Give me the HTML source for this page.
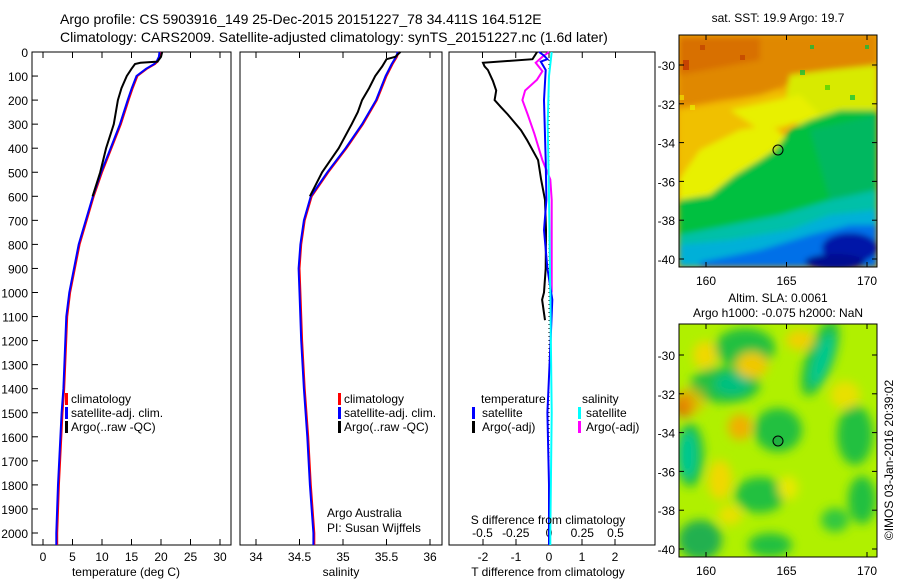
<!DOCTYPE html>
<html><head><meta charset="utf-8"><style>
body{margin:0;background:#fff;}
svg text{font-family:"Liberation Sans",sans-serif;font-size:12px;fill:#000;}
</style></head><body>
<svg id="c" width="900" height="580" viewBox="0 0 900 580" xmlns="http://www.w3.org/2000/svg">
<defs>
<filter id="bl" x="-20%" y="-20%" width="140%" height="140%"><feGaussianBlur stdDeviation="3"/></filter>
<filter id="bl2" x="-20%" y="-20%" width="140%" height="140%"><feGaussianBlur stdDeviation="5"/></filter>
<clipPath id="m1"><rect x="679" y="35" width="198" height="232"/></clipPath>
<clipPath id="m2"><rect x="679" y="324" width="198" height="233"/></clipPath>
</defs>
<text x="60" y="24" style="font-size:14px">Argo profile: CS 5903916_149 25-Dec-2015 20151227_78 34.411S 164.512E</text>
<text x="60" y="42" style="font-size:14px">Climatology: CARS2009. Satellite-adjusted climatology: synTS_20151227.nc (1.6d later)</text>

<!-- SST map -->
<g clip-path="url(#m1)">
<rect x="679" y="35" width="198" height="232" fill="#f0a800"/>
<g filter="url(#bl)">
<polygon points="679,35 877,35 877,70 840,78 800,80 760,95 720,100 679,108" fill="#e08800"/>
<polygon points="679,38 760,38 760,60 679,75" fill="#d87000"/>
<polygon points="790,75 830,70 877,65 877,130 820,130 780,120" fill="#d8ea00"/>
<polygon points="679,110 740,100 780,90 800,110 790,125 760,150 740,175 710,200 679,205" fill="#f0c000"/>
<polygon points="679,180 700,150 740,130 770,125 790,140 760,160 730,190 700,210 679,215" fill="#e8f000"/>
<polygon points="730,110 800,95 820,115 790,125 760,130" fill="#e8f000"/>
<polygon points="679,200 710,195 735,175 760,160 775,150 790,130 810,120 840,110 877,110 877,200 800,215 740,230 679,235" fill="#00c040"/>
<polygon points="810,130 877,115 877,200 830,200" fill="#00b860"/>
<polygon points="679,235 730,225 780,215 830,200 877,190 877,267 679,267" fill="#00c0a8"/>
<polygon points="679,245 730,240 790,230 830,215 877,210 877,267 679,267" fill="#00b0d8"/>
<polygon points="700,262 760,250 810,235 850,225 877,225 877,267 700,267" fill="#0070e8"/>
<ellipse cx="850" cy="248" rx="28" ry="15" fill="#0018a8"/>
<ellipse cx="835" cy="262" rx="30" ry="8" fill="#000890"/>
</g>
<g opacity="0.7">
<rect x="700" y="45" width="5" height="5" fill="#c04000"/><rect x="740" y="55" width="5" height="5" fill="#c04000"/>
<rect x="810" y="45" width="4" height="4" fill="#00c040"/><rect x="865" y="45" width="4" height="4" fill="#00c040"/>
<rect x="825" y="85" width="5" height="5" fill="#40d000"/><rect x="850" y="95" width="5" height="5" fill="#00c040"/>
<rect x="690" y="105" width="5" height="5" fill="#e8f000"/><rect x="800" y="70" width="5" height="5" fill="#00c040"/>
<rect x="679" y="95" width="5" height="5" fill="#f0e000"/><rect x="683" y="60" width="6" height="10" fill="#c03000"/>
</g>
</g>
<rect x="679" y="35" width="198" height="232" fill="none" stroke="#000"/>
<circle cx="778" cy="150" r="5" fill="none" stroke="#000"/>
<text x="778" y="22" text-anchor="middle">sat. SST: 19.9 Argo: 19.7</text>

<!-- SLA map -->
<g clip-path="url(#m2)">
<rect x="679" y="324" width="198" height="233" fill="#b0f000"/>
<g filter="url(#bl2)">
<ellipse cx="745" cy="348" rx="30" ry="20" fill="#20c040"/>
<ellipse cx="725" cy="385" rx="35" ry="18" fill="#20c040"/>
<ellipse cx="732" cy="384" rx="18" ry="11" fill="#00c080"/>
<ellipse cx="820" cy="358" rx="14" ry="40" fill="#20c040" transform="rotate(20 820 358)"/>
<ellipse cx="822" cy="360" rx="8" ry="28" fill="#00c890" transform="rotate(20 822 360)"/>
<ellipse cx="690" cy="455" rx="14" ry="32" fill="#20c040"/>
<ellipse cx="688" cy="455" rx="9" ry="24" fill="#00c890"/>
<ellipse cx="684" cy="405" rx="10" ry="12" fill="#d86010"/>
<ellipse cx="692" cy="400" rx="14" ry="14" fill="#f0b000" opacity="0.6"/>
<ellipse cx="752" cy="365" rx="16" ry="13" fill="#f0c800"/>
<ellipse cx="705" cy="355" rx="12" ry="14" fill="#f0d800"/>
<ellipse cx="740" cy="427" rx="12" ry="13" fill="#f0b000"/>
<ellipse cx="720" cy="480" rx="12" ry="20" fill="#f0d800"/>
<ellipse cx="778" cy="430" rx="24" ry="22" fill="#20c040"/>
<ellipse cx="760" cy="495" rx="25" ry="18" fill="#20c040"/>
<ellipse cx="855" cy="435" rx="18" ry="30" fill="#20c040"/>
<ellipse cx="862" cy="500" rx="14" ry="24" fill="#20c040"/>
<ellipse cx="700" cy="540" rx="22" ry="20" fill="#20b050"/>
<ellipse cx="770" cy="545" rx="22" ry="12" fill="#20c040"/>
<ellipse cx="835" cy="520" rx="14" ry="12" fill="#30c840"/>
<ellipse cx="800" cy="340" rx="14" ry="10" fill="#f0d000"/>
<ellipse cx="845" cy="395" rx="15" ry="14" fill="#e8e000"/>
<ellipse cx="788" cy="488" rx="10" ry="12" fill="#e8e800"/>
<ellipse cx="730" cy="515" rx="12" ry="10" fill="#e8e000"/>
</g>
</g>
<rect x="679" y="324" width="198" height="233" fill="none" stroke="#000"/>
<circle cx="778" cy="441" r="5" fill="#20b040" stroke="#000"/>
<text x="778" y="302" text-anchor="middle">Altim. SLA: 0.0061</text>
<text x="778" y="317" text-anchor="middle">Argo h1000: -0.075 h2000: NaN</text>
<text transform="translate(893,460) rotate(-90)" text-anchor="middle">©IMOS 03-Jan-2016 20:39:02</text>

<g id="plots"></g>
</svg>
<script>
// ---- data ----
const tClimDepth=[0,20,40,50,70,100,150,200,300,400,500,600,800,1000,1100,1400,1500,1800,2000,2050];
const tClim=[19.9,19.8,19.4,19.0,17.6,16.0,15.2,14.5,13.2,11.6,10.0,8.6,6.2,4.6,4.1,3.6,3.3,2.7,2.4,2.4];
const tArgoDepth=[0,20,40,45,50,70,100,150,200,300,400,500,600];
const tArgo=[20.2,20.0,19.4,16.5,15.6,15.0,14.2,13.3,12.7,12.0,10.7,9.7,8.4];
const sClimDepth=[0,20,50,100,200,300,400,500,600,700,800,900,1000,1200,1400,1600,1800,2000,2050];
const sClim=[35.64,35.62,35.57,35.50,35.39,35.23,35.04,34.83,34.64,34.56,34.52,34.50,34.51,34.53,34.56,34.60,34.63,34.67,34.67];
const sArgoDepth=[0,20,30,60,100,150,200,250,300,400,500,600];
const sArgo=[35.66,35.6,35.5,35.45,35.37,35.30,35.22,35.17,35.10,34.95,34.76,34.62];
const dTArgoDepth=[0,30,45,60,75,120,160,200,230,260,325,365,450,530,615,740,900,1000,1030,1115];
const dTArgo=[-0.36,-0.5,-2.0,-1.95,-1.85,-1.7,-1.6,-1.65,-1.45,-1.25,-0.85,-0.67,-0.33,-0.24,-0.12,-0.09,-0.1,-0.15,-0.21,-0.12];
const dSArgoDepth=[0,20,45,80,115,160,200,260,340,450,530,615,740,870,1000];
const dSArgo=[0.0,-0.05,-0.1,-0.05,-0.09,-0.18,-0.2,-0.16,-0.11,-0.05,0.01,0.02,0.02,0.02,0.02];
const dTSatDepth=[0,15,30,40,75,200,450,615,740,900,1030,1200,1500,1800,2000,2050];
const dTSat=[-0.3,-0.15,-0.05,-0.25,-0.1,-0.15,-0.1,-0.08,-0.15,-0.05,0.1,0.05,-0.05,0.0,0.0,0.0];
const dSSatDepth=[0,100,300,600,1000,1500,2000,2050];
const dSSat=[0.02,0.0,-0.01,0.0,0.01,0.02,0.01,0.01];
const depthTicks=[0,100,200,300,400,500,600,700,800,900,1000,1100,1200,1300,1400,1500,1600,1700,1800,1900,2000];
const tTicks=[0,5,10,15,20,25,30];
const sTicks=[34,34.5,35,35.5,36];
const dTTicks=[-2,-1,0,1,2];
const dSTicks=[-0.5,-0.25,0,0.25,0.5];
const dSTickLabels=["-0.5","-0.25","0","0.25","0.5"];
const lats=[-30,-32,-34,-36,-38,-40];
const lons=[160,165,170];

// ---- axes ----
const NS='http://www.w3.org/2000/svg';
const g=document.getElementById('plots');
const yD=d=>52+d*0.2405;
const xT=v=>43+v*5.9;
const xS=v=>256+(v-34)*87;
const xDT=v=>549+v*33;
const xDS=v=>549+v*133;
function mk(tag,at,txt){const e=document.createElementNS(NS,tag);for(const k in at)e.setAttribute(k,at[k]);if(txt!==undefined)e.textContent=txt;g.appendChild(e);return e;}
function frame(x0,x1,nm){const r=mk('rect',{x:x0,y:52,width:x1-x0,height:493,fill:'none',stroke:'#000'});

}
function line(xs,ds,fx,col,nm){const p=xs.map((v,i)=>fx(v).toFixed(1)+','+yD(ds[i]).toFixed(1)).join(' ');
const e=mk('polyline',{points:p,fill:'none',stroke:col,'stroke-width':2});

}
function txt(x,y,s,anchor,nm){const e=mk('text',{x:x,y:y,'text-anchor':anchor||'start'},s);

}
function tick(x1,y1,x2,y2){const e=mk('line',{x1:x1,y1:y1,x2:x2,y2:y2,stroke:'#000'});

}
function bar(x,y,col){const e=mk('rect',{x:x,y:y-11,width:3,height:12,fill:col});

}

frame(32,231,'temperature-panel');frame(240,442,'salinity-panel');frame(449,655,'difference-panel');
depthTicks.forEach(d=>{tick(32,yD(d),38,yD(d));txt(28,yD(d)+5,String(d),'end','depth-tick-label');});
tTicks.forEach(v=>{tick(xT(v),52,xT(v),58);tick(xT(v),545,xT(v),539);txt(xT(v),561,String(v),'middle','temperature-tick-label');});
sTicks.forEach(v=>{tick(xS(v),52,xS(v),58);tick(xS(v),545,xS(v),539);txt(xS(v),561,String(v),'middle','salinity-tick-label');});
dTTicks.forEach(v=>{tick(xDT(v),545,xDT(v),539);txt(xDT(v),561,String(v),'middle','t-diff-tick-label');});
dSTicks.forEach((v,i)=>{tick(xDS(v),52,xDS(v),58);txt(xDS(v),537,dSTickLabels[i],'middle','s-diff-tick-label');});
const z=mk('line',{x1:xDT(0),y1:52,x2:xDT(0),y2:545,stroke:'#000','stroke-dasharray':'1,3'});



line(tClim,tClimDepth,xT,'#ff0000','temperature-climatology');
line(tClim.map(v=>v-0.15),tClimDepth,xT,'#0000ff','temperature-satellite-adj');
line(tArgo,tArgoDepth,xT,'#000','temperature-argo');
line(sClim,sClimDepth,xS,'#ff0000','salinity-climatology');
line(sClim.map(v=>v-0.01),sClimDepth,xS,'#0000ff','salinity-satellite-adj');
line(sArgo,sArgoDepth,xS,'#000','salinity-argo');
line(dTArgo,dTArgoDepth,xDT,'#000','t-diff-argo');
line(dSArgo,dSArgoDepth,xDS,'#ff00ff','s-diff-argo');
line(dTSat,dTSatDepth,xDT,'#0000ff','t-diff-satellite');
line(dSSat,dSSatDepth,xDS,'#00ffff','s-diff-satellite');

bar(65,404,'#ff0000');txt(71,403,'climatology','start','legend-climatology');
bar(65,418,'#0000ff');txt(71,417,'satellite-adj. clim.','start','legend-satellite');
bar(65,432,'#000');txt(71,431,'Argo(..raw -QC)','start','legend-argo');
bar(338,404,'#ff0000');txt(344,403,'climatology','start','legend-climatology');
bar(338,418,'#0000ff');txt(344,417,'satellite-adj. clim.','start','legend-satellite');
bar(338,432,'#000');txt(344,431,'Argo(..raw -QC)','start','legend-argo');
txt(481,403,'temperature','start','legend-temperature');
bar(472,418,'#0000ff');txt(482,417,'satellite','start','legend-t-satellite');
bar(472,432,'#000');txt(482,431,'Argo(-adj)','start','legend-t-argo');
txt(582,403,'salinity','start','legend-salinity');
bar(578,418,'#00ffff');txt(586,417,'satellite','start','legend-s-satellite');
bar(578,432,'#ff00ff');txt(586,431,'Argo(-adj)','start','legend-s-argo');
txt(327,517,'Argo Australia','start','credit-argo-australia');
txt(327,532,'PI: Susan Wijffels','start','credit-pi');
txt(548,524,'S difference from climatology','middle','s-diff-axis-title');
txt(126,576,'temperature (deg C)','middle','temperature-axis-title');
txt(341,576,'salinity','middle','salinity-axis-title');
txt(548,576,'T difference from climatology','middle','t-diff-axis-title');

const mlat1=v=>65+(-30-v)*19.4, mlat2=v=>355+(-30-v)*19.4, mlon=v=>706+(v-160)*16.1;
lats.forEach(v=>{
 tick(679,mlat1(v),684,mlat1(v));tick(877,mlat1(v),872,mlat1(v));txt(675,mlat1(v)+5,String(v),'end','sst-lat-label');
 tick(679,mlat2(v),684,mlat2(v));tick(877,mlat2(v),872,mlat2(v));txt(675,mlat2(v)+5,String(v),'end','sla-lat-label');
});
lons.forEach(v=>{
 tick(mlon(v),35,mlon(v),40);tick(mlon(v),267,mlon(v),262);txt(mlon(v),285,String(v),'middle','sst-lon-label');
 tick(mlon(v),324,mlon(v),329);tick(mlon(v),557,mlon(v),552);txt(mlon(v),575,String(v),'middle','sla-lon-label');
});
</script>
</body></html>
